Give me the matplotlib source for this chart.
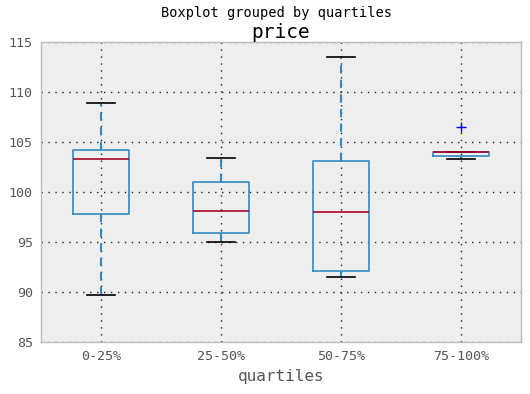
import matplotlib
matplotlib.use("Agg")
import matplotlib.pyplot as plt

# quartile groups and box statistics
groups = ["0-25%", "25-50%", "50-75%", "75-100%"]
whislo = [89.7, 95.0, 91.5, 103.3]
q1 = [97.8, 95.9, 92.1, 103.6]
med = [103.3, 98.1, 98.0, 104.0]
q3 = [104.2, 101.0, 103.1, 104.0]
whishi = [108.9, 103.4, 113.5, 104.0]
fliers = [[], [], [], [106.5]]

plt.rcParams['font.family'] = ['DejaVu Sans Mono']

stats = []
for i in range(len(groups)):
    stats.append({"label": groups[i], "whislo": whislo[i], "q1": q1[i], "med": med[i],
                  "q3": q3[i], "whishi": whishi[i], "fliers": fliers[i]})

fig = plt.figure(figsize=(5.3, 3.94), dpi=100)
ax = fig.add_axes([0.0774, 0.132, 0.9056, 0.7614])
ax.set_facecolor('#EEEEEE')

ax.bxp(stats, widths=0.46,
       boxprops=dict(color='#348ABD', linewidth=1.2),
       whiskerprops=dict(color='#348ABD', linestyle=(0, (4, 3)), linewidth=1.5),
       capprops=dict(color='black', linewidth=1.2),
       medianprops=dict(color='#A60628', linewidth=1.2),
       flierprops=dict(marker='+', markeredgecolor='blue', markersize=7, linestyle='none'))

ax.set_ylim(85, 115)
ax.set_xlim(0.5, 4.5)
ax.grid(True, color='#222222', linestyle=(0, (1, 4)), linewidth=1)
ax.set_axisbelow(True)
for s in ax.spines.values():
    s.set_color('#BCBCBC')
    s.set_linewidth(1)
ax.tick_params(length=0, colors='#555555', labelsize=9.6, pad=6)
ax.set_xlabel('quartiles', fontsize=11.5, color='#555555')
ax.set_title('price', fontsize=14, pad=1)
fig.suptitle('Boxplot grouped by quartiles', fontsize=9.8, y=0.985, x=0.522)

fig.savefig('out.png', dpi=100)
